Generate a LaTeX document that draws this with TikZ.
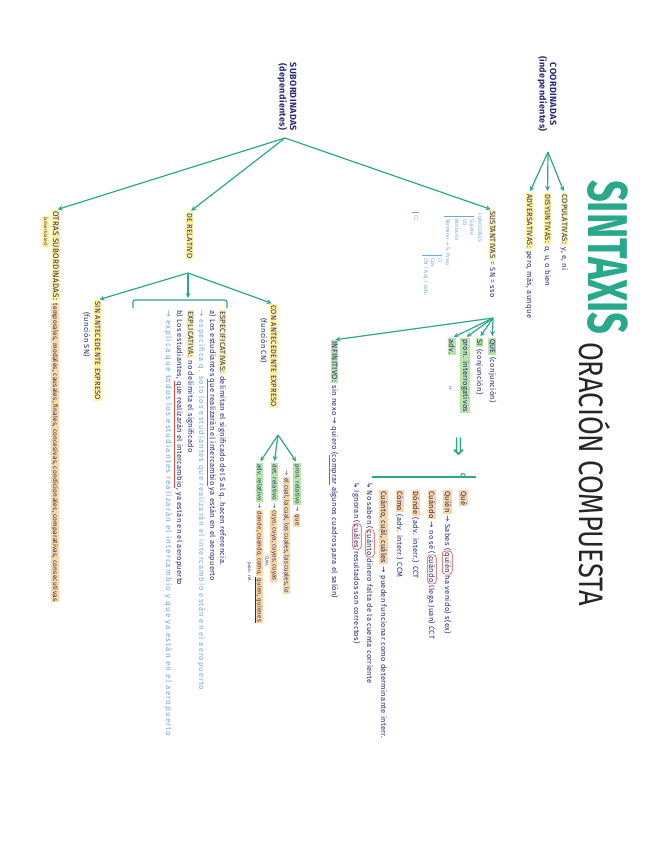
\documentclass[tikz,border=0pt]{standalone}
\usepackage{fontspec}
\setmainfont{Fira Sans}
\newfontfamily\hand[LetterSpace=4]{Fira Sans}
\newfontfamily\notefont[LetterSpace=14]{Fira Sans}
\newfontfamily\symf{DejaVu Sans}
\usepackage{xcolor}
\usetikzlibrary{arrows}

\definecolor{navy}{HTML}{2A2A78}
\definecolor{teal}{HTML}{2AA88A}
\definecolor{lblue}{HTML}{6FA8DC}
\definecolor{hly}{HTML}{FFF39A}
\definecolor{hlg}{HTML}{B8E6A8}
\definecolor{hlo}{HTML}{FAD7A0}
\definecolor{ered}{HTML}{E04A3F}

\newcommand{\hly}[1]{{\setlength{\fboxsep}{1pt}\colorbox{hly}{#1}}}
\newcommand{\hlg}[1]{{\setlength{\fboxsep}{1pt}\colorbox{hlg}{#1}}}
\newcommand{\hlo}[1]{{\setlength{\fboxsep}{1pt}\colorbox{hlo}{#1}}}
\newcommand{\ar}{{\symf →}}
\newcommand{\hookar}{{\symf ↳}}
\newcommand{\rul}[1]{{\color{ered}\underline{\textcolor{navy}{#1}}}}

\begin{document}
\begin{tikzpicture}[x=1pt, y=1pt,
    txt/.style={font=\hand\fontsize{7.5}{9}\selectfont, text=navy, inner sep=0pt, anchor=base west},
    sm/.style={txt, font=\hand\fontsize{6}{7}\selectfont},
    note/.style={txt, font=\notefont\fontsize{7.5}{9}\selectfont, text=lblue},
    fn/.style={txt, font=\hand\fontsize{5.3}{6}\selectfont, text=lblue},
    tiny/.style={txt, font=\hand\fontsize{4.5}{5}\selectfont},
    head/.style={font=\hand\bfseries\fontsize{9}{10.5}\selectfont, text=navy, align=center, inner sep=0pt},
    circ/.style={txt, draw=ered, rounded corners=3pt, inner sep=1.2pt, semithick},
    link/.style={->, >=stealth, draw=teal, line width=1.2pt, shorten >=2pt},
    brace/.style={draw=teal, line width=1.2pt, rounded corners=2pt},
    fnline/.style={draw=lblue, line width=0.6pt}
]
\useasboundingbox (0,0) rectangle (646,-848);

\begin{scope}[rotate=-90, transform shape]
    % title
    \node[anchor=base west, inner sep=0pt, text=teal, xscale=0.68,
          font=\bfseries\fontsize{56}{56}\selectfont] (sint) at (180, 588) {SINTAXIS};
    \node[anchor=base west, inner sep=0pt, text=black!85, xscale=0.8,
          font=\fontsize{34}{34}\selectfont] (orac) at (342, 579) {ORACIÓN COMPUESTA};

    % coordinadas
    \node[head] (coord) at (94, 547) {COORDINADAS\\(independientes)};
    \coordinate (chub) at (152, 548);
    \node[txt] (cop) at (193, 562) {\hly{COPULATIVAS:} y, e, ni};
    \node[txt] (dis) at (193, 545) {\hly{DISYUNTIVAS:} o, u, o bien};
    \node[txt] (adver) at (193, 527) {\hly{ADVERSATIVAS:} pero, más, aunque};
    \draw[link] (chub) -- (cop.west);
    \draw[link] (chub) -- (dis.west);
    \draw[link] (chub) -- (adver.west);

    % subordinadas
    \node[head] (subord) at (97, 287) {SUBORDINADAS\\(dependientes)};
    \coordinate (shub) at (138, 285);
    \node[txt] (sust) at (210, 490) {\hly{SUSTANTIVAS} = SN = sso};
    \node[txt] (rel) at (212, 187) {\hly{DE RELATIVO}};
    \node[txt, font=\hand\fontsize{8}{9}\selectfont] (otras) at (210, 53) {\hly{OTRAS SUBORDINADAS:}};
    \node[sm, font=\hand\fontsize{6.5}{7}\selectfont] (otraslst) at (otras.base east) {\,\hlo{temporales, modales, causales, finales, concesivas, condicionales, comparativas, consecutivas}};
    \node[tiny] (adverb) at (216, 44) {\hly{(adverbiales)}};
    \draw[link] (shub) -- (sust.west);
    \draw[link] (shub) -- (rel.west);
    \draw[link] (shub) -- (otras.west);

    % funciones del SN
    \node[fn] (fn0) at (213, 478) {FUNCIONES};
    \node[fn] (fn1) at (219, 470) {Sujeto};
    \node[fn] (fn2) at (219, 463) {CD};
    \node[fn] (fn3) at (219, 455) {Atributo};
    \node[fn] (fn4) at (219, 446) {Término \ar{} S. Prep};
    \node[fn] (fn5) at (258, 438) {CI};
    \node[fn] (fn6) at (258, 431) {Cpv};
    \node[fn] (fn7) at (258, 424) {CN / Adj / Adv.};
    \node[fn] (fn8) at (215, 414) {CC};
    \draw[fnline] (216, 444) -- (216, 474);
    \draw[fnline] (255, 422) -- (255, 442);
    \draw[fnline] (212, 412) -- (212, 419);

    % nexos sustantivas
    \coordinate (sshub) at (318, 493);
    \node[txt] (que) at (338, 490) {\hlg{QUE} (conjunción)};
    \node[txt] (si) at (338, 477) {\hlg{SI} (conjunción)};
    \node[txt] (prin) at (338, 463) {\hlg{pron. interrogativos}};
    \node[txt] (advin) at (338, 449) {\hlg{adv.}};
    \node[txt] (ditto) at (386, 446) {''};
    \node[txt] (inf) at (340, 332) {\hlg{INFINITIVO:} sin nexo \ar{} quiero (\rul{comprar} algunos cuadros para el salón)};
    \draw[link] (sshub) -- (que.west);
    \draw[link] (sshub) -- (si.west);
    \draw[link] (sshub) -- (prin.west);
    \draw[link] (sshub) -- (advin.west);
    \draw[link] (sshub) -- (inf.west);

    \node[inner sep=0pt, text=teal, font=\symf\fontsize{24}{24}\selectfont] (impl) at (447, 458) {⇒};
    \draw[brace] (477, 372) -- (477, 476);
    \draw[teal, line width=1pt] (475.5, 463) circle (2);

    % interrogativos
    \node[txt] (q0) at (490, 461) {\hlo{Qué}};
    \node[txt] (q1a) at (490, 445) {\hlo{Quién} \ar{} Sabes (};
    \node[circ] (q1b) at (q1a.base east) {quién};
    \node[txt] (q1c) at (q1b.base east) {\,ha venido) s(ex)};
    \node[txt] (q2a) at (490, 429) {\hlo{Cuándo} \ar{} no sé (};
    \node[circ] (q2b) at (q2a.base east) {cuándo};
    \node[txt] (q2c) at (q2b.base east) {\,llega Juan) CCT};
    \node[txt] (q3) at (490, 413) {\hlo{Dónde} (adv. interr.) CCT};
    \node[txt] (q4) at (490, 397) {\hlo{Cómo} (adv. interr.) CCM};
    \node[txt] (q5) at (490, 381) {\hlo{Cuánto, cuál, cuáles} \ar{} pueden funcionar como determinante interr.};
    \node[txt] (q6a) at (482, 367) {\hookar{} No saben (};
    \node[circ] (q6b) at (q6a.base east) {cuánto};
    \node[txt] (q6c) at (q6b.base east) {\,dinero falta de la cuenta corriente};
    \node[txt] (q7a) at (482, 354) {\hookar{} Ignoran (};
    \node[circ] (q7b) at (q7a.base east) {cuáles};
    \node[txt] (q7c) at (q7b.base east) {\,resultados son correctos)};

    % de relativo
    \coordinate (rhub) at (273, 188);
    \node[txt] (con) at (304, 271) {\hly{CON ANTECEDENTE EXPRESO}};
    \node[txt] (confn) at (318, 261) {(función CN)};
    \draw[brace] (308, 133) -- (300, 133) -- (300, 227) -- (308, 227);
    \coordinate (brk) at (300, 188);
    \node[txt] (sinant) at (300, 95) {\hly{SIN ANTECEDENTE EXPRESO}};
    \node[txt] (sinfn) at (312, 84) {(función SN)};
    \draw[link] (rhub) -- (con.west);
    \draw[link] (rhub) -- (brk);
    \draw[link] (rhub) -- (sinant.west);

    \coordinate (chub2) at (435, 278);
    \node[sm] (prel) at (463, 295.5) {\hlg{pron. relativo} \ar{} \hlo{que}};
    \node[sm] (prel2) at (470, 284.5) {\ar{} \hlo{el cual, la cual, los cuales, las cuales, lo}};
    \node[sm] (drel) at (463, 272.5) {\hlg{det. relativo} \ar{} \hlo{cuyo, cuya, cuyos, cuyas}};
    \node[tiny] (cual) at (556, 265.5) {CUAL};
    \node[sm] (arel) at (463, 257.5) {\hlg{adv. relativo} \ar{} \hlo{donde, cuando, como,}};
    \node[sm] (arelq) at (arel.base east) {\hlo{\,quien, quienes}};
    \draw[navy, line width=0.5pt] ([yshift=-2pt]arelq.base west) -- ([yshift=-2pt]arelq.base east);
    \node[tiny] (prelb) at (562, 248) {pron. rel.};
    \draw[link] (chub2) -- (prel.west);
    \draw[link] (chub2) -- (drel.west);
    \draw[link] (chub2) -- (arel.west);

    % especificativas / explicativas
    \node[txt] (e1) at (310, 220) {\hly{ESPECIFICATIVAS:} delimitan el significado del S al q. hacen referencia.};
    \node[txt] (e2) at (310, 210) {a) Los estudiantes \rul{que realizarán el intercambio} ya están en el aeropuerto};
    \node[note] (e3) at (310, 199) {\ar{} especifica q. solo los estudiantes que realizarán el intercambio están en el aeropuerto};
    \node[txt] (e4) at (310, 188) {\hly{EXPLICATIVA:} no delimita el significado};
    \node[txt] (e5) at (310, 177) {b) Los estudiantes, \rul{que realizarán el intercambio}, ya están en el aeropuerto};
    \node[note, font=\notefont\fontsize{8}{9}\selectfont] (e6) at (310, 166) {\ar{} explica que todos los estudiantes realizarán el intercambio y que ya están en el aeropuerto};
\end{scope}
\end{tikzpicture}
\end{document}
